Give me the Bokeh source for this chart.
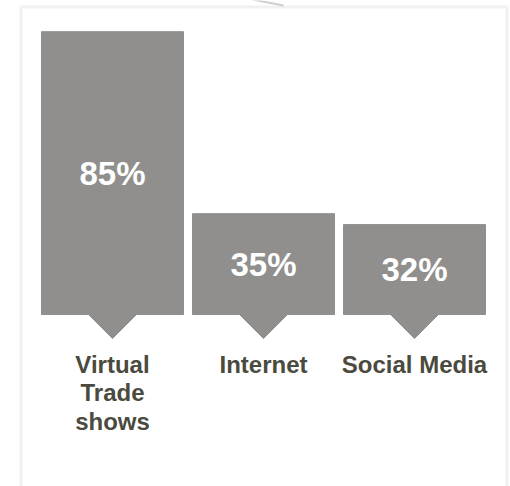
from bokeh.plotting import figure
from bokeh.models import Range1d, BoxAnnotation
from bokeh.core.properties import value
from bokeh.embed import file_html
from bokeh.resources import INLINE

# ---- data ----
categories = ["Virtual\nTrade\nshows", "Internet", "Social Media"]
percent = [85, 35, 32]
value_labels = ["85%", "35%", "32%"]

# ---- layout constants (image pixels) ----
OX, OY = 0, 0          # canvas origin in the page
W, H = 510, 486
PX_Y = 3.64            # pixels per percent point
BASE = 7.3             # value at bar baseline
BASE_PIX = 314
PX_X = 151             # pixels per category step
X0_PIX = 112

BAR = "#908f8d"
LABEL = "#4a4a3e"
FRAME = "#d2d2d2"


def ydata(pix):
    return BASE + (BASE_PIX - pix) / PX_Y


def xdata(pix):
    return (pix - X0_PIX) / PX_X


p = figure(width=W, height=H,
           x_range=Range1d(xdata(OX), xdata(OX + W)),
           y_range=Range1d(ydata(OY + H), ydata(OY)),
           output_backend="svg", toolbar_location=None, min_border=0,
           x_axis_location=None, y_axis_location=None)
p.grid.visible = False
p.outline_line_color = None
p.background_fill_color = "white"
p.border_fill_color = "white"

xs = list(range(len(percent)))

# frame
p.add_layout(BoxAnnotation(left=xdata(20.5), right=xdata(506.5), top=ydata(6.5),
                           bottom=ydata(900), fill_alpha=0, line_color=FRAME,
                           line_width=3))
p.segment(x0=[xdata(252)], y0=[ydata(-1)], x1=[xdata(283)], y1=[ydata(5)],
          line_color="#cfcfcf", line_width=2)

# bars
p.vbar(x=xs, top=percent, bottom=BASE, width=142 / PX_X, color=BAR)
hw = 25 / PX_X
th = 24 / PX_Y
p.patches(xs=[[i - hw, i + hw, i] for i in xs],
          ys=[[BASE + 0.3, BASE + 0.3, BASE - th] for _ in xs],
          color=BAR)

# value labels
p.text(x=xs, y=[(v + BASE) / 2 for v in percent], text=value_labels,
       text_align="center", text_baseline="middle", text_color="white",
       text_font=value("Liberation Sans"), text_font_style="bold",
       text_font_size="33px")

# category labels
p.text(x=xs, y=[ydata(350)] * len(xs), text=categories,
       text_align="center", text_baseline="top", text_color=LABEL,
       text_font=value("Liberation Sans"), text_font_style="bold",
       text_font_size="24px", text_line_height=1.06)

open("out.html", "w").write(file_html(p, INLINE))
